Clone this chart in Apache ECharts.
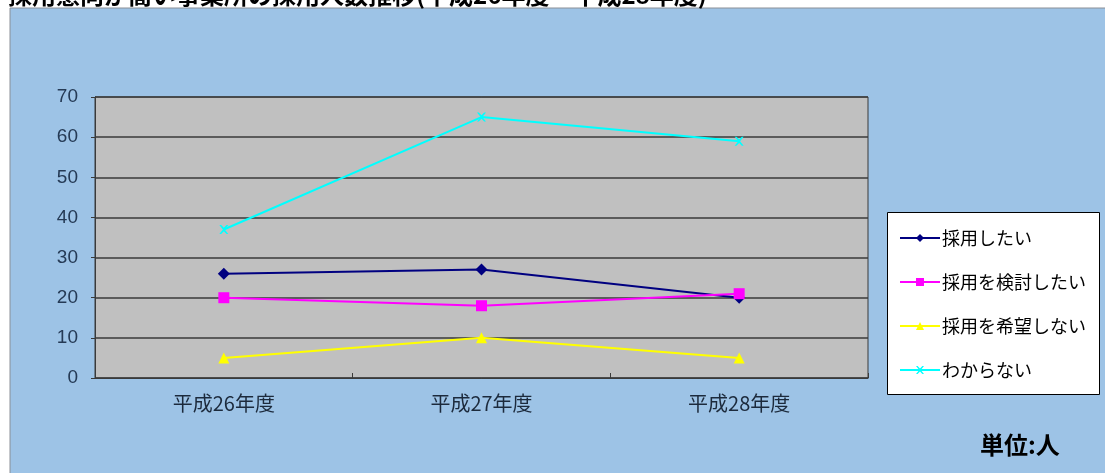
<!DOCTYPE html>
<html>
<head>
<meta charset="utf-8">
<script src="https://cdn.jsdelivr.net/npm/echarts@6/dist/echarts.min.js"></script>
<style>
  html, body { margin: 0; padding: 0; background: #ffffff; }
  #chart { width: 1105px; height: 473px; }
</style>
</head>
<body>
<div id="chart"></div>
<script>
// Fiscal years on the category axis
const categories = ['平成26年度', '平成27年度', '平成28年度'];

// Number of hires per response group
const wantToHire = [26, 27, 20];
const consideringHire = [20, 18, 21];
const noHireWanted = [5, 10, 5];
const unknown = [37, 65, 59];

const seriesNames = ['採用したい', '採用を検討したい', '採用を希望しない', 'わからない'];
const yTicks = [0, 10, 20, 30, 40, 50, 60, 70];

const titleText = '採用意向が高い事業所の採用人数推移(平成26年度～平成28年度)';
const unitText = '単位:人';

const FONT = '"Noto Sans CJK JP", "Noto Sans", sans-serif';
const NUM_FONT = '"Liberation Sans", Arial, sans-serif';
const crossPath = 'path://M0,0L2,0L5,3L8,0L10,0L6,5L10,10L8,10L5,7L2,10L0,10L4,5Z';

const chart = echarts.init(document.getElementById('chart'), null, { renderer: 'canvas' });

function lineSeries(name, data, color, symbol, size) {
  return {
    name: name,
    type: 'line',
    data: data,
    symbol: symbol,
    symbolSize: size,
    showAllSymbol: true,
    lineStyle: { color: color, width: 2 },
    itemStyle: { color: color, borderWidth: 0 },
    emphasis: { disabled: true },
    z: 5
  };
}

chart.setOption({
  animation: false,
  backgroundColor: '#ffffff',
  textStyle: { fontFamily: FONT },
  graphic: [
    {
      type: 'rect',
      shape: { x: 10, y: 8, width: 1100, height: 470 },
      style: { fill: '#9dc3e6', stroke: '#8a8f96', lineWidth: 1 },
      z: -10
    },
    {
      type: 'text',
      left: 8,
      top: -17,
      style: { text: titleText, font: 'bold 24px ' + FONT, fill: '#000000' },
      z: 10
    },
    {
      type: 'rect',
      shape: { x: 887.5, y: 212.5, width: 212, height: 182 },
      style: { fill: '#ffffff', stroke: '#000000', lineWidth: 1 },
      z: 1
    },
    {
      type: 'text',
      left: 980,
      top: 433,
      style: { text: unitText, font: 'bold 24px ' + FONT, fill: '#000000' },
      z: 10
    }
  ],
  grid: {
    left: 95,
    top: 97,
    width: 773,
    height: 281,
    show: true,
    backgroundColor: '#c0c0c0',
    borderColor: '#3a3a3a',
    borderWidth: 1,
    containLabel: false
  },
  legend: {
    orient: 'vertical',
    left: 894,
    top: 224,
    itemWidth: 40,
    itemHeight: 10,
    itemGap: 26,
    data: seriesNames,
    textStyle: { fontSize: 18, color: '#000000', fontFamily: FONT, padding: [0, 0, 0, -3] },
    z: 6
  },
  xAxis: {
    type: 'category',
    data: categories,
    boundaryGap: true,
    axisLine: { show: true, lineStyle: { color: '#3a3a3a', width: 1 } },
    axisTick: { show: true, inside: true, length: 5, lineStyle: { color: '#3a3a3a' } },
    axisLabel: { fontSize: 20, color: '#1c2a3c', margin: 15 },
    splitLine: { show: false }
  },
  yAxis: {
    type: 'value',
    min: 0,
    max: 70,
    interval: 10,
    axisLine: { show: true, lineStyle: { color: '#3a3a3a', width: 1 } },
    axisTick: { show: true, length: 4, lineStyle: { color: '#3a3a3a' } },
    axisLabel: {
      fontSize: 19,
      fontFamily: NUM_FONT,
      color: '#253a55',
      margin: 17,
      formatter: function (v) { return yTicks.indexOf(v) >= 0 ? String(v) : ''; }
    },
    splitLine: { show: true, lineStyle: { color: '#3a3a3a', width: 1.5 } }
  },
  series: [
    lineSeries(seriesNames[0], wantToHire, '#000080', 'diamond', 12),
    lineSeries(seriesNames[1], consideringHire, '#ff00ff', 'rect', 11),
    lineSeries(seriesNames[2], noHireWanted, '#ffff00', 'triangle', 11),
    lineSeries(seriesNames[3], unknown, '#00ffff', crossPath, 9)
  ]
});
</script>
</body>
</html>
